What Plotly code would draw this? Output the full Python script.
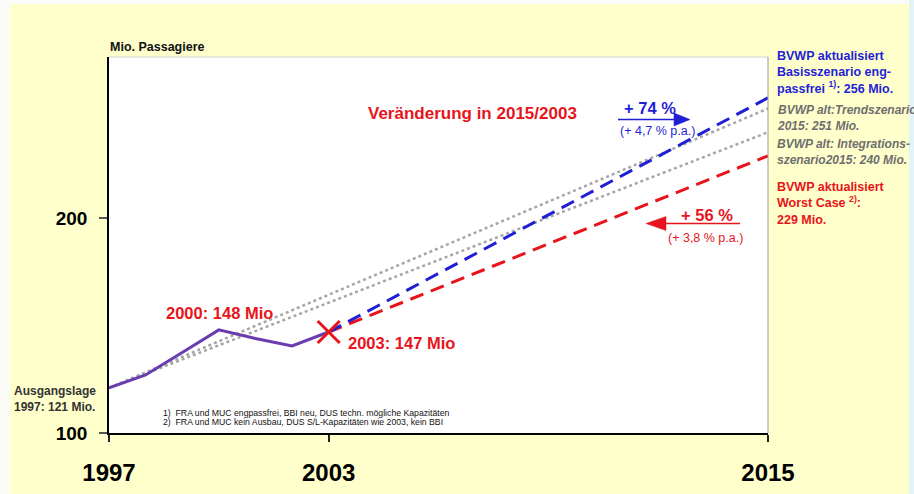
import plotly.graph_objects as go

# ---- data ----
hist_years = [1997, 1998, 1999, 2000, 2001, 2002, 2003]
hist_pax = [121, 127, 137.5, 148, 144, 140.5, 147]

proj_years = [2003, 2015]
basis_pax = [147, 256]
worst_pax = [147, 229]

old_years = [1997, 2015]
trend_pax = [121, 251]
integ_pax = [121, 240]

x_ticks = [1997, 2003, 2015]
y_ticks = [100, 200]

# ---- layout helpers (pixel -> paper) ----
W, H = 914, 494
ML, MR, MT, MB = 109, 146, 57, 61
PW, PH = W - ML - MR, H - MT - MB


def px(x):
    return (x - ML) / PW


def py(y):
    return (H - MB - y) / PH


FONT = "Liberation Sans, Arial, sans-serif"
BLUE = "#1f1fd6"
RED = "#e8141b"
PURPLE = "#6a3cb0"
GRAY = "#a6a6a6"
GRAYTXT = "#6e6e6e"
YELLOW = "#ffffcc"

fig = go.Figure()

fig.add_trace(go.Scatter(x=old_years, y=trend_pax, mode="lines",
                         line=dict(color=GRAY, width=2.5, dash="dot"), hoverinfo="skip"))
fig.add_trace(go.Scatter(x=old_years, y=integ_pax, mode="lines",
                         line=dict(color=GRAY, width=2.5, dash="dot"), hoverinfo="skip"))
fig.add_trace(go.Scatter(x=proj_years, y=worst_pax, mode="lines",
                         line=dict(color=RED, width=3, dash="14px,8px"), hoverinfo="skip"))
fig.add_trace(go.Scatter(x=proj_years, y=basis_pax, mode="lines",
                         line=dict(color=BLUE, width=3, dash="14px,8px"), hoverinfo="skip"))
fig.add_trace(go.Scatter(x=hist_years, y=hist_pax, mode="lines",
                         line=dict(color=PURPLE, width=3), hoverinfo="skip"))
fig.add_trace(go.Scatter(x=[hist_years[-1]], y=[hist_pax[-1]], mode="markers",
                         marker=dict(symbol="x-thin", size=22,
                                     line=dict(color=RED, width=3)),
                         hoverinfo="skip"))

shapes = [
    # white strips left / top, light-blue strip right
    dict(type="rect", xref="paper", yref="paper", x0=px(-5), x1=px(10),
         y0=py(H + 5), y1=py(-5), fillcolor="#fbfcf8", line=dict(width=0), layer="below"),
    dict(type="rect", xref="paper", yref="paper", x0=px(-5), x1=px(W + 5),
         y0=py(4), y1=py(-5), fillcolor="#fbfcf8", line=dict(width=0), layer="below"),
    dict(type="rect", xref="paper", yref="paper", x0=px(909), x1=px(W + 5),
         y0=py(H + 5), y1=py(-5), fillcolor="#e2f4f8", line=dict(width=0), layer="below"),
    # plot border top / right
    dict(type="line", xref="paper", yref="paper", x0=0, x1=1, y0=1, y1=1,
         line=dict(color="#d0d0d0", width=1)),
    dict(type="line", xref="paper", yref="paper", x0=1, x1=1, y0=0, y1=1,
         line=dict(color="#9a9a9a", width=1)),
    # blue arrow
    dict(type="line", xref="paper", yref="paper", x0=px(618), x1=px(676),
         y0=py(119.5), y1=py(119.5), line=dict(color=BLUE, width=1.5)),
    dict(type="path", xref="paper", yref="paper",
         path=f"M {px(690)},{py(119.5)} L {px(674)},{py(113)} L {px(674)},{py(126)} Z",
         fillcolor=BLUE, line=dict(color=BLUE, width=0.5)),
    # red arrow
    dict(type="line", xref="paper", yref="paper", x0=px(664), x1=px(740),
         y0=py(223.5), y1=py(223.5), line=dict(color=RED, width=1.5)),
    dict(type="path", xref="paper", yref="paper",
         path=f"M {px(646)},{py(223.5)} L {px(666)},{py(216.5)} L {px(666)},{py(230.5)} Z",
         fillcolor=RED, line=dict(color=RED, width=0.5)),
]

annotations = []


def txt(text, x, y, size, color, xanchor="left", italic=False, bold=True, align="left"):
    t = text
    if bold:
        t = f"<b>{t}</b>"
    if italic:
        t = f"<i>{t}</i>"
    annotations.append(dict(text=t, x=px(x), y=py(y), xref="paper", yref="paper",
                            xanchor=xanchor, yanchor="middle", showarrow=False,
                            align=align,
                            font=dict(family=FONT, size=size, color=color)))


txt("Mio. Passagiere", 108, 47, 12.5, "#111111")
txt("Veränderung in 2015/2003", 472, 113, 17, RED, "center")
txt("+ 74 %", 650, 108, 16.5, BLUE, "center")
txt("(+ 4,7 % p.a.)", 657, 131, 12.5, BLUE, "center", bold=False)
txt("+ 56 %", 707, 215, 16.5, RED, "center")
txt("(+ 3,8 % p.a.)", 705, 238, 12.5, RED, "center", bold=False)
txt("2000: 148 Mio", 164, 313, 16.5, RED)
txt("2003: 147 Mio", 346, 343, 16.5, RED)
txt("Ausgangslage<br>1997: 121 Mio.", 98, 398.5, 12, "#333333", "right")
txt("1)  FRA und MUC engpassfrei, BBI neu, DUS techn. mögliche Kapazitäten",
    161, 413, 8.7, "#111111", bold=False)
txt("2)  FRA und MUC kein Ausbau, DUS S/L-Kapazitäten wie 2003, kein BBI",
    161, 422, 8.7, "#111111", bold=False)

RX = 775
txt("BVWP aktualisiert<br>Basisszenario eng-<br>passfrei <sup>1)</sup>: 256 Mio.",
    RX, 72.5, 12.5, BLUE)
txt("BVWP alt:Trendszenario<br>2015: 251 Mio.", RX, 117.5, 12, GRAYTXT, italic=True)
txt("BVWP alt: Integrations-<br>szenario2015: 240 Mio.", RX, 151.5, 12, GRAYTXT, italic=True)
txt("BVWP aktualisiert<br>Worst Case <sup>2)</sup>:<br>229 Mio.", RX, 203, 12.5, RED)

fig.update_layout(
    width=W, height=H,
    margin=dict(l=ML, r=MR, t=MT, b=MB, pad=0, autoexpand=False),
    paper_bgcolor=YELLOW, plot_bgcolor="white",
    showlegend=False,
    shapes=shapes, annotations=annotations,
    xaxis=dict(range=[1997, 2015], tickvals=x_ticks, ticktext=[str(v) for v in x_ticks],
               showline=True, linecolor="black", linewidth=1.5, automargin=False,
               ticks="outside", ticklen=7, tickwidth=1.5, tickcolor="#222222",
               showgrid=False, zeroline=False, ticklabelstandoff=10,
               tickfont=dict(family=FONT, size=24, color="black", weight="bold")),
    yaxis=dict(range=[100, 275], tickvals=y_ticks, ticktext=[str(v) for v in y_ticks],
               showline=True, linecolor="black", linewidth=1.5, automargin=False,
               ticks="outside", ticklen=8, tickwidth=1.5, tickcolor="#555555",
               showgrid=False, zeroline=False, ticklabelstandoff=8,
               tickfont=dict(family=FONT, size=19, color="black", weight="bold")),
)

fig.write_html("out.html", config={"displayModeBar": False})
